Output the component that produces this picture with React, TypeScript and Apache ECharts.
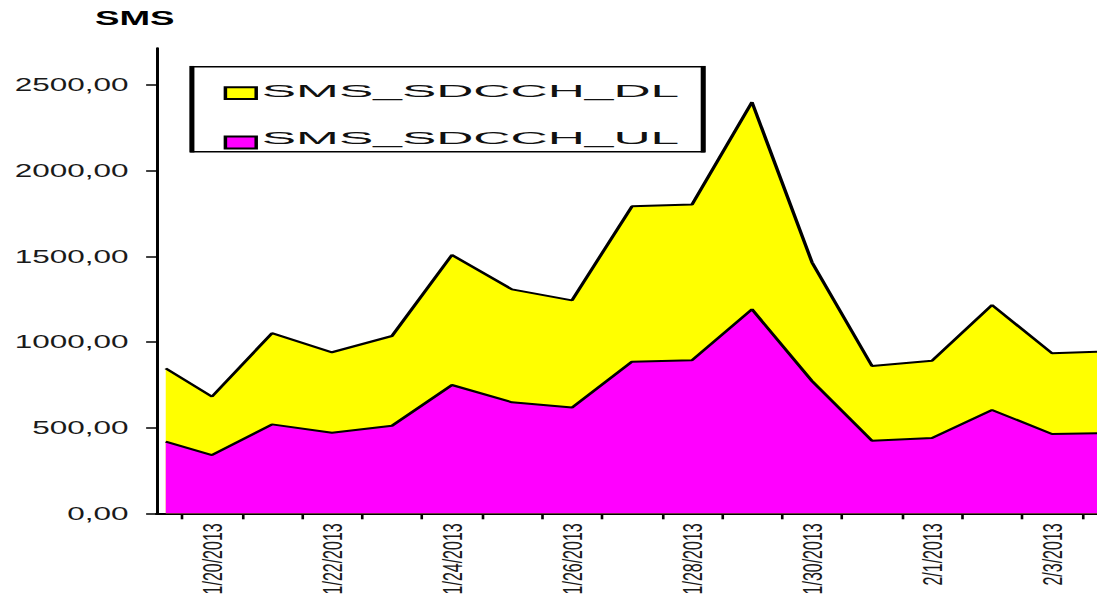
import React, { useEffect, useRef } from "react";
import * as echarts from "echarts";

// Horizontal stretch applied to the whole chart (wide glyphs, heavy vertical strokes).
const STRETCH = 1.75;
const PAGE_W = 1097;
const PAGE_H = 599;
const CHART_W = PAGE_W / STRETCH;

const FONT = "Liberation Sans, Arial, sans-serif";

// x positions in days after 1/19/2013; first and last entries are where the areas enter/leave the plot
const dayOffset = [0.23, 1, 2, 3, 4, 5, 6, 7, 8, 9, 10, 11, 12, 13, 14, 15, 15.75];
const ulValues = [418, 340, 519, 470, 511, 749, 648, 617, 885, 893, 1191, 772, 424, 440, 603, 463, 467];
const dlValues = [428, 341, 532, 470, 524, 759, 659, 626, 907, 909, 1209, 693, 436, 451, 613, 471, 476];

const seriesNames = ["SMS_SDCCH_DL", "SMS_SDCCH_UL"];

const labelDays = [1, 3, 5, 7, 9, 11, 13, 15];
const tickLabels = [
  "1/20/2013",
  "1/22/2013",
  "1/24/2013",
  "1/26/2013",
  "1/28/2013",
  "1/30/2013",
  "2/1/2013",
  "2/3/2013",
];
const dayBoundaries = [0.5, 1.5, 2.5, 3.5, 4.5, 5.5, 6.5, 7.5, 8.5, 9.5, 10.5, 11.5, 12.5, 13.5, 14.5, 15.5];
const yTicks = [0, 500, 1000, 1500, 2000, 2500];

export default function App() {
  const ref = useRef<HTMLDivElement>(null);

  useEffect(() => {
    if (!ref.current) return;
    const chart = echarts.init(ref.current, null, { renderer: "svg" });

    // DL sits on top of UL: its outline is the running total
    const ulData = dayOffset.map((d, i) => [d, ulValues[i]]);
    const stackTopData = dayOffset.map((d, i) => [d, ulValues[i] + dlValues[i]]);

    const legendX = 109.4;
    const legendY = 66.7;
    const legendW = 292.6;
    const legendH = 85;

    chart.setOption({
      animation: false,
      backgroundColor: "#ffffff",
      title: {
        text: "SMS",
        left: 54.3,
        top: 7,
        padding: 0,
        textStyle: { fontFamily: FONT, fontSize: 21, fontWeight: "bold", color: "#000" },
      },
      grid: {
        left: 89.5,
        right: 0,
        top: 48,
        bottom: 85.7,
        containLabel: false,
        outerBoundsMode: "none",
      },
      xAxis: {
        type: "value",
        min: 0.078,
        max: 15.754,
        splitLine: { show: false },
        axisLine: { show: true, onZero: false, lineStyle: { color: "#000", width: 2 } },
        axisTick: {
          show: true,
          customValues: dayBoundaries,
          length: 6,
          lineStyle: { color: "#000", width: 1.5 },
        },
        axisLabel: {
          customValues: labelDays,
          rotate: 90,
          margin: 10,
          fontFamily: FONT,
          fontSize: 16,
          color: "#1a1a1a",
          formatter: (v: number) => tickLabels[labelDays.indexOf(Math.round(v))] ?? "",
        },
      },
      yAxis: {
        type: "value",
        min: 0,
        max: 2716,
        splitLine: { show: false },
        axisLine: { show: true, lineStyle: { color: "#000", width: 1.7 } },
        axisTick: {
          show: true,
          customValues: yTicks,
          length: 6,
          lineStyle: { color: "#000", width: 1.5 },
        },
        axisLabel: {
          customValues: yTicks,
          margin: 16,
          fontFamily: FONT,
          fontSize: 18,
          color: "#1a1a1a",
          formatter: (v: number) => v.toFixed(2).replace(".", ","),
        },
      },
      series: [
        {
          name: seriesNames[0],
          type: "line",
          z: 2,
          symbol: "none",
          data: stackTopData,
          lineStyle: { color: "#000", width: 2 },
          areaStyle: { color: "#FFFF00", opacity: 1 },
        },
        {
          name: seriesNames[1],
          type: "line",
          z: 3,
          symbol: "none",
          data: ulData,
          lineStyle: { color: "#000", width: 2 },
          areaStyle: { color: "#FF00FF", opacity: 1 },
        },
      ],
      graphic: [
        {
          type: "group",
          z: 10,
          children: [
            {
              type: "rect",
              shape: { x: legendX, y: legendY, width: legendW, height: legendH },
              style: { fill: "#fff", stroke: "#000", lineWidth: 1.5 },
            },
            {
              type: "rect",
              shape: { x: legendX - 1.2, y: legendY - 0.75, width: 2.9, height: legendH + 1.5 },
              style: { fill: "#000" },
            },
            {
              type: "rect",
              shape: { x: legendX + legendW - 1.6, y: legendY - 0.75, width: 2.9, height: legendH + 1.5 },
              style: { fill: "#000" },
            },
            {
              type: "rect",
              shape: { x: 128.8, y: 87.2, width: 17.6, height: 11.8 },
              style: { fill: "#FFFF00", stroke: "#000", lineWidth: 2 },
            },
            {
              type: "rect",
              shape: { x: 128.8, y: 136.6, width: 17.6, height: 11.8 },
              style: { fill: "#FF00FF", stroke: "#000", lineWidth: 2 },
            },
            {
              type: "text",
              x: 149.6,
              y: 91.5,
              scaleX: 1.73,
              style: {
                text: seriesNames[0],
                fontFamily: FONT,
                fontSize: 17,
                fill: "#111",
                align: "left",
                verticalAlign: "middle",
              },
            },
            {
              type: "text",
              x: 149.6,
              y: 138.5,
              scaleX: 1.73,
              style: {
                text: seriesNames[1],
                fontFamily: FONT,
                fontSize: 17,
                fill: "#111",
                align: "left",
                verticalAlign: "middle",
              },
            },
          ],
        },
      ],
    });

    return () => chart.dispose();
  }, []);

  return (
    <div
      style={{
        position: "fixed",
        left: 0,
        top: 0,
        width: PAGE_W,
        height: PAGE_H,
        overflow: "hidden",
        background: "#fff",
      }}
    >
      <div
        ref={ref}
        style={{
          width: CHART_W,
          height: PAGE_H,
          transform: `scaleX(${STRETCH})`,
          transformOrigin: "0 0",
        }}
      />
    </div>
  );
}
